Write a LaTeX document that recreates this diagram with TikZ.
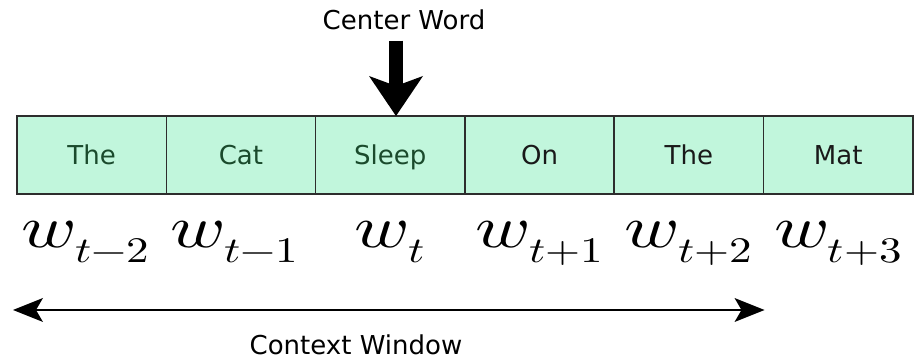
\documentclass[tikz,border=0pt]{standalone}
\usepackage{amsmath}
\usepackage{fontspec}
\usepackage{unicode-math}
\setmathfont{Latin Modern Math}
\usepackage{xcolor}
\usepackage{tikz}
\usetikzlibrary{arrows.meta,
positioning,
calc}

\newfontfamily\wordfont{DejaVu Sans}
\DeclareMathSizes{60}{60}{36}{26}

\definecolor{mint}{RGB}{193,246,220}
\definecolor{leafText}{RGB}{26,74,44}
\definecolor{edgeGray}{RGB}{45,45,45}

\begin{document}
\begin{tikzpicture}[
    x=1pt, y=1pt,
    font=\wordfont\fontsize{26pt}{30pt}\selectfont,
    node distance=0pt,
    wordbox/.style={
        draw=edgeGray,
        fill=mint,
        line width=1.6pt,
        minimum width=149.3pt,
        minimum height=78pt,
        inner sep=0pt,
        outer sep=0pt,
        text height=19pt,
        text depth=0pt
    },
    leftbox/.style={
        wordbox,
        text=leafText
    },
    rightbox/.style={
        wordbox,
        text=black!90
    },
    wlabel/.style={
        font=\fontsize{60pt}{62pt}\selectfont,
        inner sep=0pt,
        text height=26pt,
        text depth=14pt
    },
    caption/.style={
        anchor=base,
        inner sep=0pt
    },
    pointer/.style={
        -{Stealth[length=40pt,width=54pt,inset=10pt,line width=0pt]},
        line width=14pt,
        shorten <=10pt
    },
    window/.style={
        {Stealth[length=30pt,width=24pt,inset=7pt,line width=0pt]}-%
        {Stealth[length=30pt,width=24pt,inset=7pt,line width=0pt]},
        line width=2.4pt
    }
]

\useasboundingbox (0,0) rectangle (917,361);

%------------------------------------------------------------------------------
% Sentence boxes
%------------------------------------------------------------------------------

\node[leftbox] (the1) at (91.65,206) {The};
\node[leftbox, right=of the1] (cat) {Cat};
\node[leftbox, right=of cat] (sleep) {Sleep};
\node[rightbox, right=of sleep] (on) {On};
\node[rightbox, right=of on] (the2) {The};
\node[rightbox, right=of the2] (mat) {Mat};

%------------------------------------------------------------------------------
% Word positions
%------------------------------------------------------------------------------

\node[wlabel, below=27pt of the1, xshift=-6pt] (w1) {\scalebox{1.25}[1]{$w_{t-2}$}};
\node[wlabel, below=27pt of cat, xshift=-6pt] (w2) {\scalebox{1.25}[1]{$w_{t-1}$}};
\node[wlabel, below=27pt of sleep] (w3) {\scalebox{1.25}[1]{$w_{t}$}};
\node[wlabel, below=27pt of on] (w4) {\scalebox{1.25}[1]{$w_{t+1}$}};
\node[wlabel, below=27pt of the2] (w5) {\scalebox{1.25}[1]{$w_{t+2}$}};
\node[wlabel, below=27pt of mat] (w6) {\scalebox{1.25}[1]{$w_{t+3}$}};

%------------------------------------------------------------------------------
% Center word marker
%------------------------------------------------------------------------------

\node[caption] (center) at (404,331) {Center Word};

\draw[pointer]
    ([xshift=-8pt]center.south)
    --
    ([xshift=-8pt]center.south |- sleep.north);

%------------------------------------------------------------------------------
% Context window
%------------------------------------------------------------------------------

\coordinate (winL) at ($(the1.south west)+(-4,-116)$);
\coordinate (winR) at ($(the2.south east)+(1,-116)$);

\draw[window] (winL) -- (winR);

\node[caption] (context) at (356,6) {Context Window};

\end{tikzpicture}
\end{document}
